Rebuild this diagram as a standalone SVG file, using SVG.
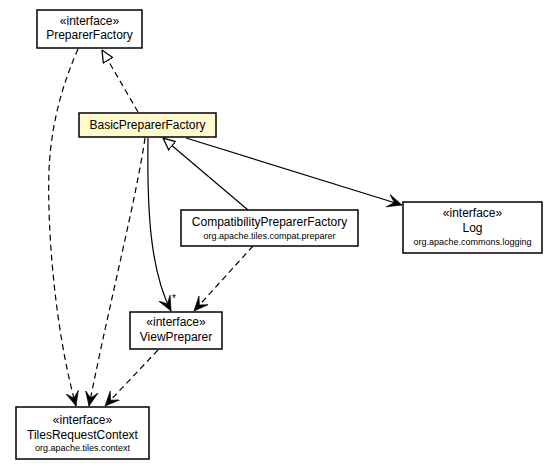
<svg xmlns="http://www.w3.org/2000/svg" width="557" height="469" viewBox="0 0 557 469">
<style>
.box{fill:#fff;stroke:#000;stroke-width:1.5}
.cur{fill:#fffacd}
text{font-family:"Liberation Sans",Arial,sans-serif;fill:#000;text-anchor:middle}
.t{font-size:12px}
.p{font-size:9px}
.e{fill:none;stroke:#000;stroke-width:1.2}
.d{stroke-dasharray:6,4}
</style>
<defs>
<marker id="open" markerUnits="userSpaceOnUse" markerWidth="15" markerHeight="14" viewBox="0 0 14 13" refX="13.5" refY="6.5" orient="auto">
<path d="M0,0.5 L13.5,6.5 L0,12.5 L6,6.5 Z" fill="#000" stroke="#000" stroke-width="0.6" stroke-linejoin="round"/>
</marker>
<marker id="tri" markerUnits="userSpaceOnUse" markerWidth="13" markerHeight="12" viewBox="0 0 12 11" refX="11.5" refY="5.5" orient="auto">
<path d="M0.5,0.5 L11.5,5.5 L0.5,10.5 Z" fill="#fff" stroke="#000" stroke-width="1.2"/>
</marker>
</defs>
<g id="connectors">
<path class="e d" d="M138,112 L102,50" marker-end="url(#tri)"/>
<path class="e d" d="M78,49 C62,85 51,125 49,170 C47,230 55,330 76,406" marker-end="url(#open)"/>
<path class="e d" d="M145,138 C136,200 110,300 89,406" marker-end="url(#open)"/>
<path class="e" d="M148,138 C147,210 150,270 171,311" marker-end="url(#open)"/>
<text x="174" y="302" style="font-size:10px">*</text>
<path class="e" d="M248,210 L163,138" marker-end="url(#tri)"/>
<path class="e" d="M186,138 L402,205" marker-end="url(#open)"/>
<path class="e d" d="M253,246 L194,311" marker-end="url(#open)"/>
<path class="e d" d="M158,350 L105,406" marker-end="url(#open)"/>
</g>
<g id="PreparerFactory">
<rect class="box" x="37" y="10" width="105" height="38"/>
<text class="t" x="89.5" y="25">«interface»</text>
<text class="t" x="89.5" y="39">PreparerFactory</text>
</g>
<g id="BasicPreparerFactory">
<rect class="box cur" x="79" y="113" width="137" height="24"/>
<text class="t" x="147.5" y="129">BasicPreparerFactory</text>
</g>
<g id="CompatibilityPreparerFactory">
<rect class="box" x="181" y="210" width="177" height="36"/>
<text class="t" x="269.5" y="226">CompatibilityPreparerFactory</text>
<text class="p" x="269.5" y="239">org.apache.tiles.compat.preparer</text>
</g>
<g id="Log">
<rect class="box" x="403" y="202" width="139" height="51"/>
<text class="t" x="472.5" y="217">«interface»</text>
<text class="t" x="472.5" y="232">Log</text>
<text class="p" x="472.5" y="245">org.apache.commons.logging</text>
</g>
<g id="ViewPreparer">
<rect class="box" x="130" y="312" width="92" height="37"/>
<text class="t" x="176" y="326">«interface»</text>
<text class="t" x="176" y="341">ViewPreparer</text>
</g>
<g id="TilesRequestContext">
<rect class="box" x="16" y="407" width="133" height="52"/>
<text class="t" x="82.5" y="424">«interface»</text>
<text class="t" x="82.5" y="439">TilesRequestContext</text>
<text class="p" x="82.5" y="451">org.apache.tiles.context</text>
</g>
</svg>
